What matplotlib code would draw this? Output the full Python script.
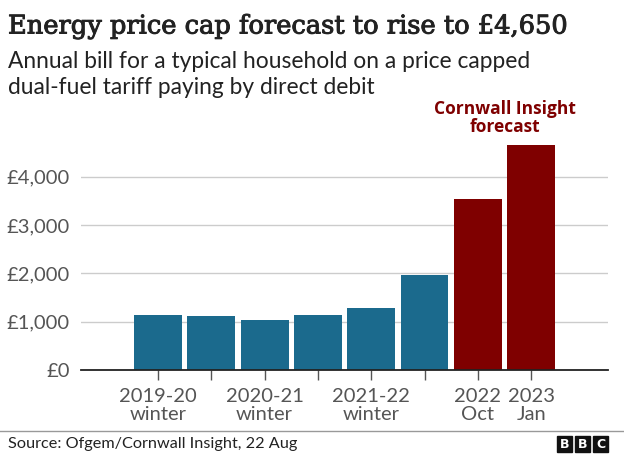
import numpy as np
import matplotlib
matplotlib.use("Agg")
import matplotlib.pyplot as plt
import matplotlib.patheffects as pe
from matplotlib.patches import Rectangle

# data
periodos = ["2019-20 winter", "2020 summer", "2020-21 winter", "2021 summer",
            "2021-22 winter", "2022 summer", "2022 Oct", "2023 Jan"]
valores = [1138, 1120, 1040, 1135, 1277, 1971, 3549, 4650]
previsao = [False, False, False, False, False, False, True, True]
rotulos_x = ["2019-20\nwinter", "", "2020-21\nwinter", "", "2021-22\nwinter", "", "2022\nOct", "2023\nJan"]
ticks_y = [0, 1000, 2000, 3000, 4000]
rotulos_y = ["£0", "£1,000", "£2,000", "£3,000", "£4,000"]

azul = "#1b6a8d"
vermelho = "#7f0000"
cinza = "#555555"

W, H = 624, 457
fig = plt.figure(figsize=(W / 100, H / 100), dpi=100)
ax = fig.add_axes([80.7 / W, 1 - 370 / H, 527.3 / W, 241.5 / H])

x = np.arange(len(valores))
cores = [vermelho if p else azul for p in previsao]
ax.bar(x, valores, width=0.895, color=cores, zorder=3)

ax.set_xlim(-1.45, 8.44)
ax.set_ylim(0, 5000)
ax.set_yticks(ticks_y)
ax.set_yticklabels(rotulos_y, fontsize=14.5, color=cinza, family="Lato")
ax.set_xticks(x)
ax.set_xticklabels(rotulos_x, fontsize=14.5, color=cinza, family="Lato", linespacing=1.05)
ax.tick_params(axis="y", length=0, pad=8)
ax.tick_params(axis="x", length=7, width=1, color="#555555", pad=6)
ax.grid(axis="y", color="#cccccc", linewidth=1, zorder=0)
for lado in ["top", "right", "left"]:
    ax.spines[lado].set_visible(False)
ax.spines["bottom"].set_color("#222222")
ax.spines["bottom"].set_linewidth(1.3)
ax.spines["bottom"].set_zorder(4)

ax.text(6.5, 4850, "Cornwall Insight\nforecast", ha="center", va="bottom",
        color=vermelho, fontsize=12.5, fontweight="bold", family="Open Sans",
        linespacing=0.95)

titulo = fig.text(8 / W, 1 - 26 / H, "Energy price cap forecast to rise to £4,650",
                  fontsize=18.5, family="DejaVu Serif", color="#222222", va="center")
titulo.set_path_effects([pe.withStroke(linewidth=0.7, foreground="#222222")])
fig.text(8 / W, 1 - 62 / H, "Annual bill for a typical household on a price capped",
         fontsize=16.4, family="Lato", color="#222222", va="center")
fig.text(8 / W, 1 - 88 / H, "dual-fuel tariff paying by direct debit",
         fontsize=16.4, family="Lato", color="#222222", va="center")

# rodapé
fig.add_artist(plt.Line2D([0, 1], [1 - 431 / H, 1 - 431 / H], color="#999999", linewidth=1))
fig.text(8 / W, 1 - 444 / H, "Source: Ofgem/Cornwall Insight, 22 Aug",
         fontsize=11.7, family="Lato", color="#222222", va="center")
for i, letra in enumerate("BBC"):
    x0 = 557 + i * 18
    fig.add_artist(Rectangle((x0 / W, 1 - 452 / H), 15 / W, 16 / H,
                             transform=fig.transFigure, color="#111111"))
    fig.text((x0 + 7.5) / W, 1 - 444 / H, letra, color="white", fontsize=9,
             fontweight="bold", family="DejaVu Sans", ha="center", va="center")

fig.savefig("out.png", dpi=100)
